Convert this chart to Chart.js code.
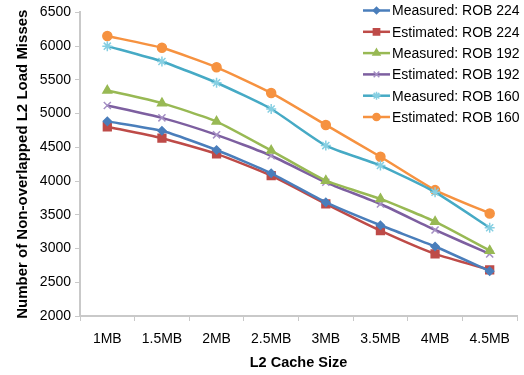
<!DOCTYPE html>
<html>
<head>
<meta charset="utf-8">
<script src="https://cdn.jsdelivr.net/npm/chart.js@4/dist/chart.umd.min.js"></script>
<style>
  html, body { margin: 0; padding: 0; background: #fff; }
  #wrap { width: 524px; height: 375px; }
</style>
</head>
<body>
<div id="wrap"><canvas id="chartLine"></canvas></div>
<script>
const cacheSizes = ['1MB', '1.5MB', '2MB', '2.5MB', '3MB', '3.5MB', '4MB', '4.5MB']
const yTicks = [2000, 2500, 3000, 3500, 4000, 4500, 5000, 5500, 6000, 6500]

const measured224 = [4885, 4745, 4460, 4115, 3685, 3345, 3030, 2665]
const estimated224 = [4805, 4635, 4403, 4080, 3662, 3265, 2920, 2685]
const measured192 = [5342, 5155, 4882, 4452, 4005, 3735, 3398, 2968]
const estimated192 = [5120, 4937, 4685, 4375, 3982, 3660, 3275, 2920]
const measured160 = [6000, 5773, 5457, 5068, 4526, 4230, 3835, 3308]
const estimated160 = [6150, 5975, 5686, 5306, 4832, 4360, 3866, 3520]

const series = [
  { label: 'Measured: ROB 224', data: measured224, color: '#4a7ebb', point: 'rectRot', radius: 4, pointColor: '#4a7ebb' },
  { label: 'Estimated: ROB 224', data: estimated224, color: '#be4b48', point: 'rect', radius: 5.5, pointColor: '#be4b48' },
  { label: 'Measured: ROB 192', data: measured192, color: '#98b954', point: 'triangle', radius: 5, pointColor: '#98b954' },
  { label: 'Estimated: ROB 192', data: estimated192, color: '#7d5fa0', point: 'crossRot', radius: 5, pointColor: '#a58fc4' },
  { label: 'Measured: ROB 160', data: measured160, color: '#46aac5', point: 'star', radius: 5, pointColor: '#86cfe2' },
  { label: 'Estimated: ROB 160', data: estimated160, color: '#f69240', point: 'circle', radius: 4.5, pointColor: '#f69240' }
]

const fontFamily = '"Liberation Sans", Arial, sans-serif'
const axisColor = '#c9c9c9'

// legend drawn inside the plot, top-right, line with marker like the original
const insideLegend = {
  id: 'insideLegend',
  afterDraw (chart) {
    const ctx = chart.ctx
    ctx.save()
    ctx.font = '14px ' + fontFamily
    ctx.textBaseline = 'middle'
    chart.data.datasets.forEach((ds, i) => {
      const y = 10.5 + i * 21.3
      const x0 = 363
      const x1 = 390
      ctx.strokeStyle = ds.borderColor
      ctx.lineWidth = 2.5
      ctx.beginPath()
      ctx.moveTo(x0, y)
      ctx.lineTo(x1, y)
      ctx.stroke()
      ctx.fillStyle = ds.pointBackgroundColor
      ctx.strokeStyle = ds.pointBorderColor
      ctx.lineWidth = ds.pointBorderWidth
      Chart.helpers.drawPoint(ctx, { pointStyle: ds.pointStyle, radius: ds.pointRadius * 0.8, borderWidth: ds.pointBorderWidth, rotation: 0 }, (x0 + x1) / 2, y)
      ctx.fillStyle = '#000'
      ctx.fillText(ds.label, 392, y + 1)
    })
    ctx.restore()
  }
}

const config = {
  type: 'line',
  data: {
    labels: cacheSizes,
    datasets: series.map(s => ({
      label: s.label,
      data: s.data,
      borderColor: s.color,
      backgroundColor: s.color,
      borderWidth: 2.5,
      tension: 0.18,
      pointStyle: s.point,
      pointRadius: s.radius,
      pointBackgroundColor: s.pointColor,
      pointBorderColor: s.pointColor,
      pointBorderWidth: 1.5
    }))
  },
  options: {
    responsive: true,
    maintainAspectRatio: false,
    animation: false,
    layout: { padding: { left: 0, right: 1, top: 12, bottom: 0 } },
    plugins: {
      legend: { display: false },
      tooltip: { enabled: false }
    },
    scales: {
      x: {
        offset: true,
        grid: { display: true, drawOnChartArea: false, color: axisColor, tickLength: 5, offset: true },
        border: { color: axisColor, width: 2 },
        ticks: { color: '#000', font: { family: fontFamily, size: 14 }, padding: 10, maxRotation: 0 },
        title: { display: true, text: 'L2 Cache Size', color: '#000', font: { family: fontFamily, size: 14.5, weight: 'bold' }, padding: { top: 4, bottom: 3 } },
        afterFit (scale) { scale.height = 59 }
      },
      y: {
        min: 2000,
        max: 6500,
        afterBuildTicks (scale) { scale.ticks = yTicks.map(v => ({ value: v })) },
        grid: { display: true, drawOnChartArea: false, color: axisColor, tickLength: 5 },
        border: { color: axisColor, width: 2 },
        ticks: { color: '#000', font: { family: fontFamily, size: 14 }, padding: 4, callback: v => String(v) },
        title: { display: true, text: 'Number of Non-overlapped L2 Load Misses', color: '#000', font: { family: fontFamily, size: 15, weight: 'bold' }, padding: { top: 14, bottom: 4 } },
        afterFit (scale) { scale.width = 80 }
      }
    }
  },
  plugins: [insideLegend]
}

const canvas = document.getElementById('chartLine').getContext('2d')
window.priceLine = new Chart(canvas, config)
</script>
</body>
</html>
